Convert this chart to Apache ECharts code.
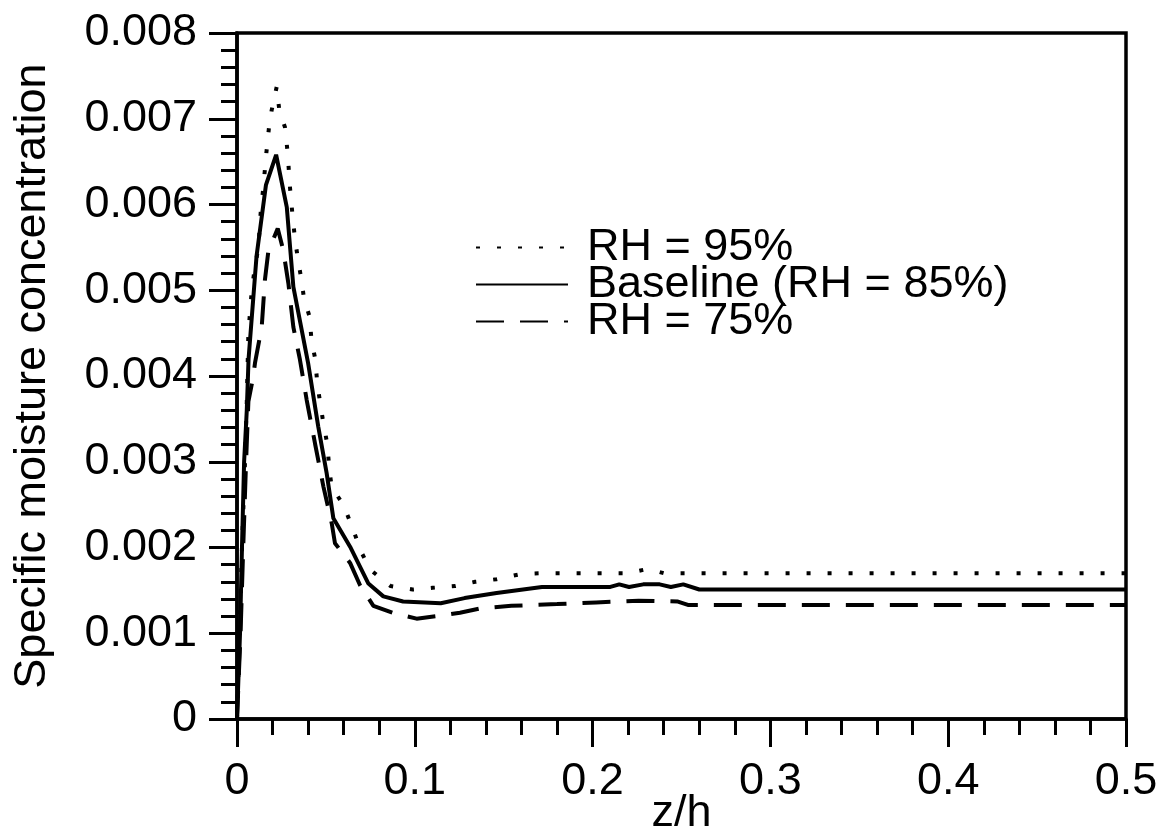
<!DOCTYPE html>
<html>
<head>
<meta charset="utf-8">
<script src="https://cdn.jsdelivr.net/npm/echarts@6/dist/echarts.min.js"></script>
<style>
  html, body { margin: 0; padding: 0; background: #fff; }
  #chart { width: 1163px; height: 835px; }
</style>
</head>
<body>
<div id="chart"></div>
<script>
var seriesNames = ['RH = 95%', 'Baseline (RH = 85%)', 'RH = 75%'];

var rh95X = [0, 0.0015, 0.0028, 0.0045, 0.0055, 0.0064, 0.0083, 0.0096, 0.012, 0.0133, 0.0148, 0.0165, 0.018, 0.0195, 0.0223,
  0.0238, 0.027, 0.0285, 0.0298, 0.0311, 0.0326, 0.034, 0.0364, 0.0377, 0.0407, 0.042, 0.044, 0.0452, 0.0467, 0.0482, 0.0508,
  0.052, 0.0533, 0.0598, 0.0655, 0.0696, 0.075, 0.0864, 0.0988, 0.11, 0.1226, 0.134, 0.146, 0.1596, 0.1715, 0.22, 0.231, 0.24, 0.5];
var rh95Y = [0, 0.001, 0.002, 0.003, 0.0037, 0.0045, 0.005, 0.0052, 0.0055, 0.0059, 0.0062, 0.0066, 0.0069, 0.0071, 0.00737,
  0.0071, 0.0069, 0.0066, 0.0062, 0.0059, 0.0056, 0.0054, 0.0051, 0.0049, 0.0047, 0.0044, 0.0042, 0.0039, 0.0037, 0.0035, 0.0032,
  0.0029, 0.0027, 0.0025, 0.0022, 0.00196, 0.00174, 0.00155, 0.00151, 0.00153, 0.00155, 0.0016, 0.00163, 0.00169, 0.0017, 0.0017, 0.00175, 0.0017, 0.0017];

var baseX = [0, 0.0017, 0.0028, 0.004, 0.0055, 0.0065, 0.011, 0.0163, 0.022, 0.028, 0.0317, 0.040, 0.0457, 0.0504, 0.0542,
  0.0636, 0.0739, 0.0823, 0.0934, 0.1146, 0.128, 0.146, 0.1715, 0.21, 0.215, 0.2205, 0.2285, 0.2377, 0.244, 0.251, 0.26, 0.5];
var baseY = [0, 0.001, 0.002, 0.003, 0.0036, 0.0042, 0.0054, 0.00623, 0.00658, 0.00597, 0.00504, 0.00415, 0.00341, 0.00287, 0.00234,
  0.00201, 0.00158, 0.00143, 0.00137, 0.00135, 0.00141, 0.00147, 0.00154, 0.00154, 0.00157, 0.00154, 0.00157, 0.00157, 0.00154, 0.00157, 0.00151, 0.00151];

var rh75X = [0, 0.002, 0.0035, 0.0051, 0.0064, 0.0092, 0.0101, 0.0139, 0.0157, 0.0176, 0.0229, 0.026, 0.0289, 0.0317, 0.0354,
  0.0392, 0.0439, 0.0486, 0.0533, 0.0551, 0.0636, 0.0692, 0.0767, 0.0889, 0.101, 0.1124, 0.1254, 0.1367, 0.1543, 0.18, 0.202,
  0.2258, 0.248, 0.2536, 0.5];
var rh75Y = [0, 0.001, 0.002, 0.003, 0.0037, 0.004, 0.00415, 0.00457, 0.00512, 0.00545, 0.00572, 0.00547, 0.00508, 0.00457, 0.00419,
  0.00372, 0.00321, 0.00271, 0.00228, 0.00205, 0.00182, 0.00156, 0.00132, 0.00123, 0.00117, 0.0012, 0.00124, 0.00129, 0.00132, 0.00134, 0.00136,
  0.00138, 0.00137, 0.00133, 0.00133];

function pairs(xs, ys) {
  var out = [];
  for (var i = 0; i < xs.length; i++) out.push([xs[i], ys[i]]);
  return out;
}

var font = '"Liberation Sans", Arial, Helvetica, sans-serif';

function lineSeries(name, xs, ys, type) {
  return {
    name: name,
    type: 'line',
    symbol: 'none',
    showSymbol: false,
    smooth: false,
    color: '#000',
    data: pairs(xs, ys),
    itemStyle: { color: '#000' },
    lineStyle: { color: '#000', width: 4, type: type }
  };
}

var option = {
  animation: false,
  backgroundColor: '#fff',
  textStyle: { fontFamily: font, color: '#000' },
  grid: {
    left: 237, right: 37, top: 33, bottom: 116,
    outerBoundsMode: 'none',
    containLabel: false,
    show: true, borderColor: '#000', borderWidth: 3.5
  },
  legend: {
    orient: 'vertical',
    left: 470,
    top: 220,
    itemWidth: 92,
    itemHeight: 12,
    itemGap: -8,
    data: seriesNames,
    itemStyle: { opacity: 0 },
    textStyle: { fontSize: 45, fontFamily: font, color: '#000', padding: [0, 0, 0, 14] }
  },
  xAxis: {
    type: 'value',
    min: 0, max: 0.5, interval: 0.1,
    name: 'z/h',
    nameLocation: 'middle',
    nameMoveOverlap: false,
    nameGap: 72,
    nameTextStyle: { fontSize: 45, fontFamily: font, color: '#000' },
    axisLine: { lineStyle: { color: '#000', width: 3.5 } },
    axisTick: { length: 28, lineStyle: { color: '#000', width: 3 } },
    minorTick: { show: true, splitNumber: 5, length: 16, lineStyle: { color: '#000', width: 3 } },
    splitLine: { show: false },
    axisLabel: {
      fontSize: 45, fontFamily: font, color: '#000', margin: 40,
      formatter: function (v) { return v === 0 ? '0' : v.toFixed(1); }
    }
  },
  yAxis: {
    type: 'value',
    min: 0, max: 0.008, interval: 0.001,
    name: 'Specific moisture concentration',
    nameLocation: 'middle',
    nameMoveOverlap: false,
    nameRotate: 90,
    nameGap: 182,
    nameTextStyle: { fontSize: 45, fontFamily: font, color: '#000' },
    axisLine: { lineStyle: { color: '#000', width: 3.5 } },
    axisTick: { length: 28, lineStyle: { color: '#000', width: 3 } },
    minorTick: { show: true, splitNumber: 5, length: 16, lineStyle: { color: '#000', width: 3 } },
    splitLine: { show: false },
    axisLabel: {
      fontSize: 45, fontFamily: font, color: '#000', margin: 40,
      formatter: function (v) { return v === 0 ? '0' : v.toFixed(3); }
    }
  },
  series: [
    lineSeries(seriesNames[0], rh95X, rh95Y, [4, 17]),
    lineSeries(seriesNames[1], baseX, baseY, 'solid'),
    lineSeries(seriesNames[2], rh75X, rh75Y, [28, 16])
  ]
};

var myChart = echarts.init(document.getElementById('chart'));
myChart.setOption(option);
</script>
</body>
</html>
